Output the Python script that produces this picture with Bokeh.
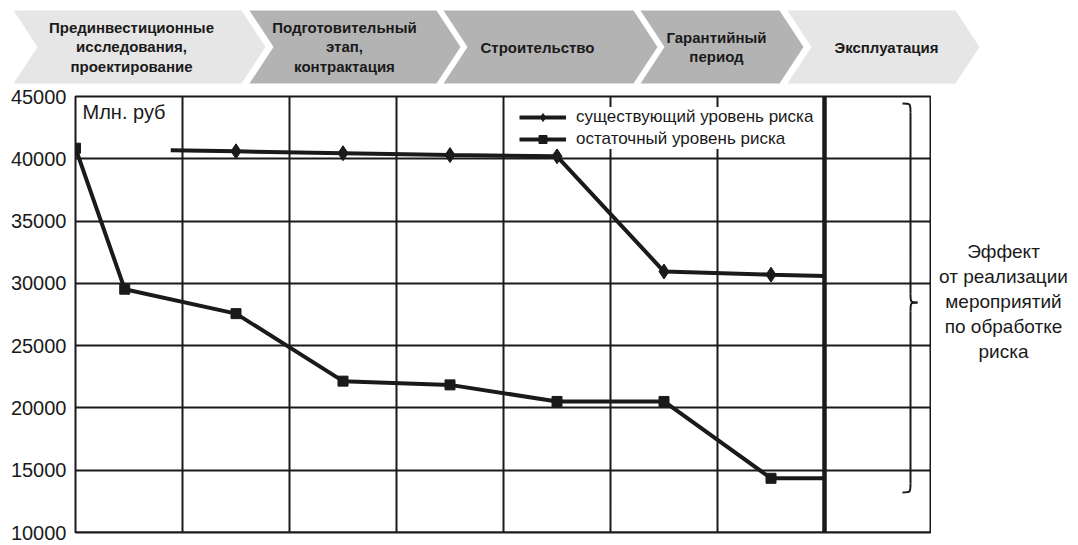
from bokeh.plotting import figure
from bokeh.layouts import column, row
from bokeh.models import Range1d, Legend, LegendItem, Span, FixedTicker
from bokeh.core.properties import value
from bokeh.embed import file_html
from bokeh.resources import INLINE

# ---------------- data ----------------
STAGES = [
    "Прединвестиционные\nисследования,\nпроектирование",
    "Подготовительный\nэтап,\nконтрактация",
    "Строительство",
    "Гарантийный\nпериод",
    "Эксплуатация",
]
Y_TICKS = [10000, 15000, 20000, 25000, 30000, 35000, 40000, 45000]
PERIODS = [0, 1, 2, 3, 4, 5, 6, 7, 8]

existing_x = [0.89, 1.5, 2.5, 3.5, 4.5, 5.5, 6.5, 7.0]
existing_y = [40680, 40600, 40450, 40300, 40200, 30950, 30700, 30600]

residual_x = [0.0, 0.46, 1.5, 2.5, 3.5, 4.5, 5.5, 6.5, 7.0]
residual_y = [40850, 29530, 27570, 22150, 21850, 20520, 20520, 14350, 14350]

SERIES_NAMES = ["существующий уровень риска", "остаточный уровень риска"]
UNIT_LABEL = "Млн. руб"
EFFECT_LABEL = "Эффект\nот реализации\nмероприятий\nпо обработке\nриска"
OPERATION_START = 7

# ---------------- styles / layout ----------------
INK = "#1a1a1a"
FONT = "Liberation Sans"
TOTAL_W = 1076
HDR_H = 86
MAIN_H = 457
FRAME_L, FRAME_R = 75, 931      # page pixels
FRAME_T, FRAME_B = 96, 532
SIDE_W = TOTAL_W - FRAME_R


def no_align(fig):
    if "frame_align" in fig.properties():
        fig.frame_align = False


# ---------------- header chevrons ----------------
hdr = figure(width=TOTAL_W, height=HDR_H, x_range=Range1d(0, TOTAL_W),
             y_range=Range1d(HDR_H, 0), toolbar_location=None, output_backend="svg",
             x_axis_location=None, y_axis_location=None, min_border=0)
hdr.xgrid.visible = False
hdr.ygrid.visible = False
hdr.outline_line_color = None
no_align(hdr)

CH_LEFT = [13, 249, 443, 640, 787]
CH_RIGHT = [241, 436, 633, 779, 955]
CH_TEXT_X = [131, 344, 537, 716, 886]
CH_COLOR = ["#e6e6e6", "#b3b3b3", "#b3b3b3", "#b3b3b3", "#e6e6e6"]
CH_TOP, CH_BOT, DEPTH = 10, 83, 24
CH_MID = (CH_TOP + CH_BOT) / 2

xs, ys = [], []
for L, R in zip(CH_LEFT, CH_RIGHT):
    xs.append([L, R, R + DEPTH, R, L, L + DEPTH])
    ys.append([CH_TOP, CH_TOP, CH_MID, CH_BOT, CH_BOT, CH_MID])
hdr.patches(xs, ys, fill_color=CH_COLOR, line_color=None)
hdr.text(x=CH_TEXT_X, y=[CH_MID] * len(STAGES), text=STAGES, text_font=value(FONT),
         text_font_style="bold", text_font_size="15px", text_align="center",
         text_baseline="middle", text_line_height=1.17, text_color=INK)

# ---------------- main chart ----------------
p = figure(width=FRAME_R, height=MAIN_H, x_range=Range1d(PERIODS[0], PERIODS[-1]),
           y_range=Range1d(Y_TICKS[0], Y_TICKS[-1]),
           toolbar_location=None, output_backend="svg", x_axis_location=None,
           min_border_left=FRAME_L, min_border_right=0,
           min_border_top=FRAME_T - HDR_H, min_border_bottom=HDR_H + MAIN_H - FRAME_B)
no_align(p)

px_x = (PERIODS[-1] - PERIODS[0]) / (FRAME_R - FRAME_L)
px_y = (Y_TICKS[-1] - Y_TICKS[0]) / (FRAME_B - FRAME_T)
def dx(sx):
    return PERIODS[0] + (sx - FRAME_L) * px_x
def dy(sy):
    return Y_TICKS[-1] - (sy - FRAME_T) * px_y

p.yaxis.ticker = FixedTicker(ticks=Y_TICKS)
p.yaxis.major_label_text_font_size = "20px"
p.yaxis.major_label_text_font = FONT
p.yaxis.major_label_text_color = INK
p.yaxis.axis_line_color = None
p.yaxis.major_tick_line_color = None
p.yaxis.minor_tick_line_color = None
p.yaxis.major_tick_out = 0
p.yaxis.major_tick_in = 0
p.yaxis.major_label_standoff = 9

p.xgrid.ticker = FixedTicker(ticks=PERIODS)
p.ygrid.ticker = FixedTicker(ticks=Y_TICKS)
for g in (p.xgrid, p.ygrid):
    g.grid_line_color = INK
    g.grid_line_width = 2
    g.grid_line_alpha = 1
p.outline_line_color = INK
p.outline_line_width = 2
p.outline_line_alpha = 1

p.add_layout(Span(location=Y_TICKS[0], dimension="width", line_color=INK, line_width=2))
p.add_layout(Span(location=OPERATION_START, dimension="height",
                  line_color=INK, line_width=4.5))

r1 = p.line(existing_x, existing_y, line_width=4, line_color=INK)
m1 = p.scatter(existing_x[1:-1], existing_y[1:-1], marker="diamond", size=15,
               fill_color=INK, line_color=INK)
r2 = p.line(residual_x, residual_y, line_width=4, line_color=INK)
m2 = p.scatter(residual_x[:-1], residual_y[:-1], marker="square", size=10,
               fill_color=INK, line_color=INK)

LEG_LEFT, LEG_TOP, LEG_H = 519, 101, 48
legend = Legend(items=[LegendItem(label=SERIES_NAMES[0], renderers=[r1, m1]),
                       LegendItem(label=SERIES_NAMES[1], renderers=[r2, m2])],
                location=(LEG_LEFT - FRAME_L, FRAME_B - LEG_TOP - LEG_H),
                glyph_width=47, glyph_height=20,
                label_height=20, spacing=2, padding=3, label_standoff=10,
                label_text_font=FONT, label_text_font_size="17px",
                label_text_color=INK, border_line_color=None,
                background_fill_color="white", background_fill_alpha=1, margin=0)
p.add_layout(legend)

p.text(x=[dx(82)], y=[dy(111)], text=[UNIT_LABEL], text_font=value(FONT),
       text_font_size="20px", text_color=INK, text_baseline="middle")

# curly brace (annotation)
BR_TOP, BR_BOT, BR_MID = dy(103), dy(492), dy(302)
bx_hook, bx_v, bx_pt = dx(902), dx(910), dx(917)
c = 9 * px_y
p.bezier(x0=[bx_hook, bx_v, bx_pt, bx_v], y0=[BR_TOP, BR_MID + c, BR_MID, BR_BOT + c],
         x1=[bx_v, bx_pt, bx_v, bx_hook], y1=[BR_TOP - c, BR_MID, BR_MID - c, BR_BOT],
         cx0=[bx_v, bx_v, bx_v, bx_v], cy0=[BR_TOP, BR_MID, BR_MID, BR_BOT],
         cx1=[bx_v, bx_v, bx_v, bx_v], cy1=[BR_TOP, BR_MID, BR_MID, BR_BOT],
         line_color=INK, line_width=2)
p.segment(x0=[bx_v, bx_v], y0=[BR_TOP - c, BR_MID - c], x1=[bx_v, bx_v],
          y1=[BR_MID + c, BR_BOT + c], line_color=INK, line_width=2)

# ---------------- right-hand note ----------------
side = figure(width=SIDE_W, height=MAIN_H, x_range=Range1d(0, SIDE_W), y_range=p.y_range,
              toolbar_location=None, output_backend="svg",
              x_axis_location=None, y_axis_location=None,
              min_border_left=0, min_border_right=0,
              min_border_top=FRAME_T - HDR_H, min_border_bottom=HDR_H + MAIN_H - FRAME_B)
side.xgrid.visible = False
side.ygrid.visible = False
side.outline_line_color = None
no_align(side)
side.text(x=[1003 - FRAME_R], y=[dy(301)], text=[EFFECT_LABEL], text_font=value(FONT),
          text_font_size="19px", text_color=INK, text_align="center",
          text_baseline="middle", text_line_height=1.2)

layout = column(hdr, row(p, side, spacing=0), spacing=0)
open("out.html", "w").write(file_html(layout, INLINE))
